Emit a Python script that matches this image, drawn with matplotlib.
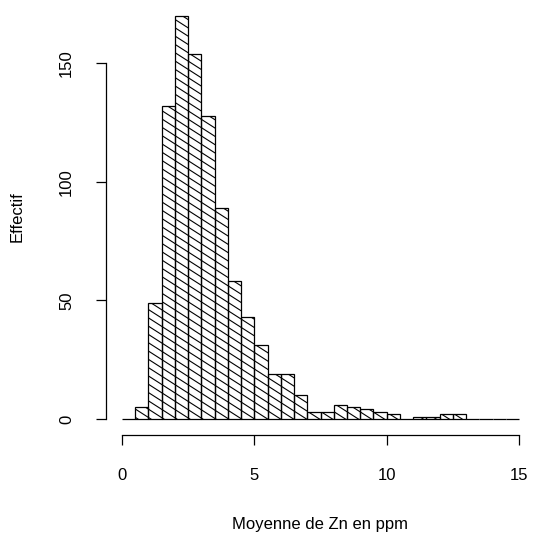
import numpy as np
import matplotlib
matplotlib.use("Agg")
import matplotlib.pyplot as plt
from matplotlib.collections import LineCollection

# ---- data ----
breaks = np.arange(0, 15.5, 0.5)
counts = [0, 5, 49, 132, 170, 154, 128, 89, 58, 43, 31, 19, 19, 10, 3,
          3, 6, 5, 4, 3, 2, 0, 1, 1, 2, 2, 0, 0, 0, 0]
xticks = [0, 5, 10, 15]
yticks = [0, 50, 100, 150]
xlabel = "Moyenne de Zn en ppm"
ylabel = "Effectif"

plt.rcParams['font.family'] = ['Liberation Sans', 'DejaVu Sans']

W, H = 534, 536
fig = plt.figure(figsize=(W / 100, H / 100), dpi=100)
ax_left, ax_right, ax_top, ax_bottom = 106, 535, 0, 435
ax = fig.add_axes([ax_left / W, 1 - ax_bottom / H,
                   (ax_right - ax_left) / W, (ax_bottom - ax_top) / H])
xlim = (-0.6, 15.6)
ylim = (-6.8, 176.8)
ax.set_xlim(*xlim)
ax.set_ylim(*ylim)

bars = ax.bar(breaks[:-1], counts, width=0.5, align='edge', fill=False,
              edgecolor='black', linewidth=0.9, zorder=3)

# hatch lines (drawn per bar, clipped to the bar)
px_per_x = (ax_right - ax_left) / (xlim[1] - xlim[0])
px_per_y = (ax_bottom - ax_top) / (ylim[1] - ylim[0])
slope_px = 0.64          # pixel slope of hatch lines (descending)
spacing_px = 8.3         # vertical spacing between hatch lines in pixels
m = -slope_px * px_per_x / px_per_y
step = spacing_px / px_per_y
x0, x1 = -1.0, 16.0
cs = np.arange(ylim[0] - abs(m) * 20, ylim[1] + abs(m) * 20, step)
segs = [[(x0, c + m * x0), (x1, c + m * x1)] for c in cs]
for b, h in zip(bars, counts):
    if h <= 0:
        continue
    lc = LineCollection(segs, colors='black', linewidths=0.8, zorder=2)
    ax.add_collection(lc)
    lc.set_clip_path(b)

for s in ['top', 'right']:
    ax.spines[s].set_visible(False)
ax.spines['left'].set_bounds(yticks[0], yticks[-1])
ax.spines['bottom'].set_bounds(xticks[0], xticks[-1])
for s in ['left', 'bottom']:
    ax.spines[s].set_linewidth(0.9)
    ax.spines[s].set_color('black')

ax.set_xticks(xticks)
ax.set_yticks(yticks)
ax.set_xticklabels([str(v) for v in xticks])
ax.set_yticklabels([str(v) for v in yticks], rotation=90, va='center')
ax.tick_params(axis='both', length=7, width=0.9, labelsize=12, colors='black')
ax.tick_params(axis='x', pad=17)
ax.tick_params(axis='y', pad=16)

fig.text(320 / W, 1 - 529 / H, xlabel, ha='center', va='baseline', fontsize=12)
fig.text(17.5 / W, 1 - 217 / H, ylabel, ha='center', va='center',
         rotation=90, fontsize=12)

fig.savefig('out.png', dpi=100)
